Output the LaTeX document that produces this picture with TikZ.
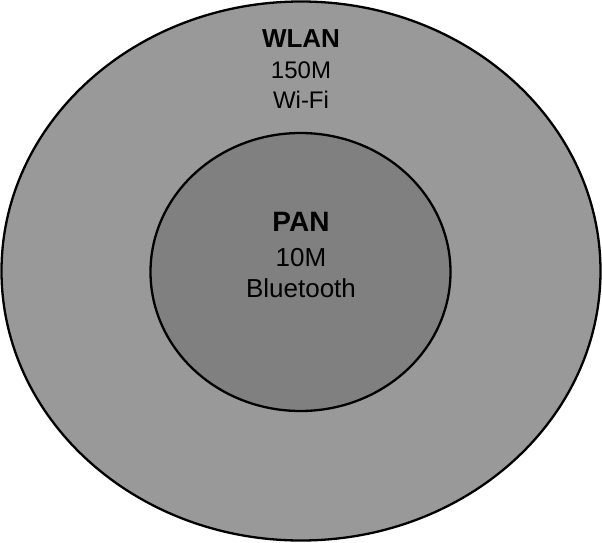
\documentclass[tikz,border=0pt]{standalone}
\usepackage{fontspec}
\setmainfont{Liberation Sans}
\usetikzlibrary{shapes.geometric}
\definecolor{wlangray}{RGB}{153,153,153}
\definecolor{pangray}{RGB}{128,128,128}
\tikzset{
  zone/.style={ellipse, draw=black, line width=2.3pt, inner sep=0pt},
  netname/.style={anchor=base, inner sep=0pt, font=\bfseries\fontsize{#1}{#1}\selectfont},
  netinfo/.style={anchor=base, inner sep=0pt, font=\fontsize{#1}{#1}\selectfont},
}
\begin{document}
\begin{tikzpicture}[x=1pt,y=-1pt]
        \useasboundingbox (0,0) rectangle (602,543);
        \def\x{301}

        % Outer zone
        \node[zone, fill=wlangray, minimum width=599pt, minimum height=539pt] (wlan) at (\x,271) {};
        \node[netname=26] (wlanname) at (\x,47.5) {WLAN};
        \node[netinfo=24] (wlanrate) at (\x,78.8) {150M};
        \node[netinfo=24] (wlantech) at (\x,108.5) {Wi-Fi};

        % Inner zone
        \node[zone, fill=pangray, minimum width=300pt, minimum height=278pt] (pan) at (\x-.5,272) {};
        \node[netname=28] (panname) at (\x,231.7) {PAN};
        \node[netinfo=26] (panrate) at (\x,266.5) {10M};
        \node[netinfo=26] (pantech) at (\x,297) {Bluetooth};
    \end{tikzpicture}
\end{document}
